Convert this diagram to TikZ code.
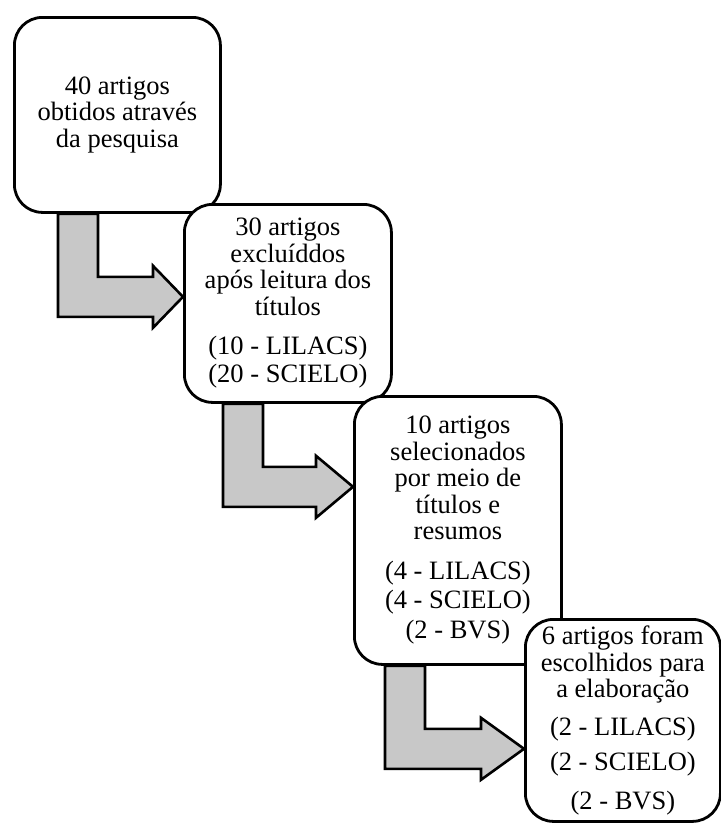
\documentclass[tikz,border=0pt]{standalone}
\usepackage{fontspec}
\setmainfont{Liberation Serif}
\usetikzlibrary{calc,backgrounds}

\definecolor{arrowgray}{RGB}{200,200,200}

% L-shaped block arrow from the bottom of #1 into the left side of #2
% #3 = shaft offset from the left of #1, #4 = head length
\newcommand{\bentarrow}[4]{%
  \draw[flowarrow] ($(#1.south west)+(#3,0)$) coordinate (s)
    -- ++(0,103) coordinate (c)
    -- ($(#2.west |- c)+(-#4,0)$) coordinate (h)
    -- ++(0,11)
    -- ($(#2.west |- c)+(0,-20)$)
    -- ($(h)+(0,-51)$)
    -- ($(h)+(0,-40)$)
    -- ($(s)+(40,63)$)
    -- ($(s)+(40,0)$) -- cycle;}

\begin{document}
\begin{tikzpicture}[x=1pt, y=-1pt,
    stepbox/.style={draw, line width=2.8pt, fill=white, rounded corners=28pt,
      anchor=north west, align=center, inner sep=0pt,
      font=\fontsize{26.5}{26.5}\selectfont},
    flowarrow/.style={draw, line width=2.6pt, fill=arrowgray}]
  \useasboundingbox (0,0) rectangle (721,823);

  \node[stepbox, minimum width=206, minimum height=195] (b1) at (13,16)
    {40 artigos\\obtidos através\\da pesquisa};
  \node[stepbox, minimum width=207, minimum height=198] (b2) at (183,203)
    {30 artigos\\excluíddos\\após leitura dos\\títulos\\[12.5pt](10 - LILACS)\\[1.8pt](20 - SCIELO)};
  \node[stepbox, minimum width=207, minimum height=268] (b3) at (353,395)
    {10 artigos\\selecionados\\por meio de\\títulos e\\resumos\\[13.5pt](4 - LILACS)\\[2.5pt](4 - SCIELO)\\[3.5pt](2 - BVS)};
  \node[stepbox, minimum width=195, minimum height=202] (b4) at (524,618)
    {6 artigos foram\\escolhidos para\\a elaboração\\[11.8pt](2 - LILACS)\\[8.5pt](2 - SCIELO)\\[11.8pt](2 - BVS)};

  \begin{pgfonlayer}{background}
    \bentarrow{b1}{b2}{45}{30}
    \bentarrow{b2}{b3}{40}{37}
    \bentarrow{b3}{b4}{32}{43}
  \end{pgfonlayer}
\end{tikzpicture}
\end{document}
